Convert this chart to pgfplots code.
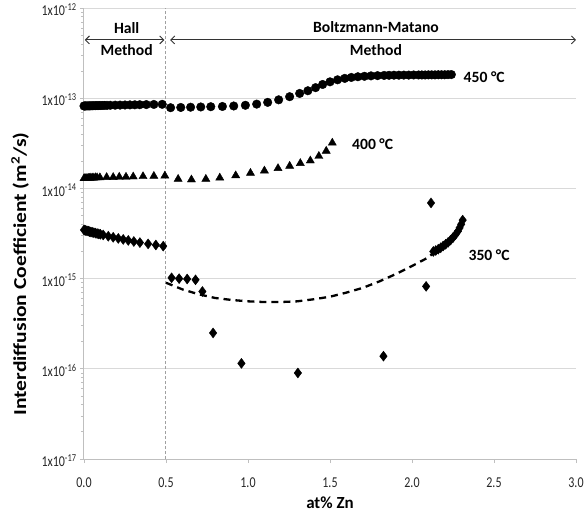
\documentclass[border=0pt]{standalone}
\usepackage{fontspec}
\setmainfont{Carlito}
\usepackage{graphicx}
\usepackage{pgfplots}
\pgfplotsset{compat=1.18}
\usetikzlibrary{arrows.meta}
\definecolor{gridc}{HTML}{D9D9D9}
\definecolor{axc}{HTML}{BFBFBF}
\definecolor{vlc}{HTML}{A0A0A0}
\newcommand{\tl}[1]{\scalebox{0.86}[1.08]{#1}}
\begin{document}
\begin{tikzpicture}
\useasboundingbox (-84bp,-56bp) rectangle (502bp,459bp);
\begin{axis}[
  at={(0bp,0bp)}, anchor=south west,
  scale only axis, width=492bp, height=451bp,
  xmin=0, xmax=3, ymin=1e-17, ymax=1e-12, ymode=log,
  clip=false,
  axis x line*=bottom, axis y line*=left,
  axis line style={-, draw=axc, line width=1bp},
  tick align=outside,
  major tick length=4bp, minor tick length=3bp,
  tick style={draw=axc, line width=0.8bp},
  xtick={0,0.5,1,1.5,2,2.5,3},
  xticklabels={\tl{0.0},\tl{0.5},\tl{1.0},\tl{1.5},\tl{2.0},\tl{2.5},\tl{3.0}},
  ytick={1e-17,1e-16,1e-15,1e-14,1e-13,1e-12},
  yticklabels={\tl{1x10\textsuperscript{-17}},\tl{1x10\textsuperscript{-16}},\tl{1x10\textsuperscript{-15}},\tl{1x10\textsuperscript{-14}},\tl{1x10\textsuperscript{-13}},\raisebox{-7bp}{\tl{1x10\textsuperscript{-12}}}},
  minor ytick={2e-17,3e-17,4e-17,5e-17,6e-17,7e-17,8e-17,9e-17,
    2e-16,3e-16,4e-16,5e-16,6e-16,7e-16,8e-16,9e-16,
    2e-15,3e-15,4e-15,5e-15,6e-15,7e-15,8e-15,9e-15,
    2e-14,3e-14,4e-14,5e-14,6e-14,7e-14,8e-14,9e-14,
    2e-13,3e-13,4e-13,5e-13,6e-13,7e-13,8e-13,9e-13},
  tick label style={font=\fontsize{14}{16}\selectfont, text=black!85},
  xticklabel style={yshift=-11bp},
  yticklabel style={yshift=-1.5bp},
  ymajorgrids, major grid style={draw=gridc, line width=1bp},
  xlabel={at\% Zn},
  ylabel={\scalebox{1.03}[0.87]{Interdiffusion Coefficient (m\textsuperscript{2}/s)}},
  xlabel style={at={(axis description cs:0.5,-0.0976)}, anchor=center, font=\bfseries\fontsize{17}{20}\selectfont},
  ylabel style={at={(axis description cs:-0.13,0.41)}, anchor=center, font=\bfseries\fontsize{21}{24}\selectfont},
]
% vertical dashed separator
\draw[vlc, line width=1bp, dash pattern=on 3bp off 2bp] (axis cs:0.5,1e-17) -- (axis cs:0.5,1e-12);

% 450 C
\addplot[only marks, mark=*, mark size=4.3bp, black] coordinates {
(0.000,8.20e-14)(0.005,8.20e-14)(0.010,8.21e-14)(0.018,8.22e-14)(0.026,8.22e-14)
(0.034,8.23e-14)(0.042,8.24e-14)(0.050,8.25e-14)(0.060,8.26e-14)(0.070,8.27e-14)
(0.080,8.28e-14)(0.090,8.29e-14)(0.100,8.30e-14)(0.112,8.31e-14)(0.125,8.32e-14)
(0.140,8.33e-14)(0.160,8.35e-14)(0.190,8.37e-14)(0.220,8.39e-14)(0.250,8.41e-14)
(0.280,8.43e-14)(0.310,8.45e-14)(0.340,8.47e-14)(0.380,8.50e-14)(0.426,8.53e-14)
(0.477,8.56e-14)
(0.528,7.85e-14)(0.590,7.90e-14)(0.650,7.95e-14)(0.712,8.00e-14)(0.773,8.05e-14)
(0.844,8.10e-14)(0.913,8.20e-14)(0.984,8.35e-14)(1.053,8.60e-14)(1.120,9.00e-14)
(1.187,9.60e-14)(1.254,1.04e-13)(1.315,1.13e-13)(1.365,1.21e-13)(1.412,1.31e-13)
(1.455,1.42e-13)(1.500,1.52e-13)(1.546,1.60e-13)(1.590,1.66e-13)(1.630,1.70e-13)
(1.670,1.73e-13)(1.710,1.75e-13)(1.750,1.77e-13)(1.790,1.78e-13)(1.830,1.79e-13)
(1.860,1.795e-13)(1.890,1.80e-13)(1.920,1.80e-13)(1.950,1.805e-13)(1.980,1.805e-13)
(2.010,1.81e-13)(2.040,1.81e-13)(2.060,1.81e-13)(2.080,1.81e-13)(2.100,1.815e-13)
(2.120,1.815e-13)(2.140,1.815e-13)(2.160,1.82e-13)(2.180,1.82e-13)(2.200,1.82e-13)
(2.220,1.825e-13)(2.240,1.83e-13)
};

% 400 C
\addplot[only marks, mark=triangle*, mark size=4.7bp, black] coordinates {
(0.000,1.29e-14)(0.005,1.29e-14)(0.010,1.29e-14)(0.018,1.30e-14)(0.026,1.30e-14)
(0.034,1.30e-14)(0.042,1.31e-14)(0.050,1.31e-14)(0.060,1.31e-14)(0.070,1.32e-14)
(0.080,1.32e-14)(0.097,1.32e-14)(0.138,1.33e-14)(0.178,1.33e-14)(0.215,1.34e-14)
(0.256,1.34e-14)(0.300,1.35e-14)(0.360,1.36e-14)(0.426,1.37e-14)(0.493,1.38e-14)
(0.574,1.27e-14)(0.655,1.25e-14)(0.743,1.27e-14)(0.828,1.31e-14)(0.925,1.39e-14)
(1.015,1.48e-14)(1.100,1.57e-14)(1.183,1.67e-14)(1.254,1.77e-14)(1.319,1.90e-14)
(1.380,2.03e-14)(1.432,2.28e-14)(1.477,2.60e-14)(1.514,3.20e-14)
};

% 350 C trend (dashed)
\addplot[black, line width=2.3bp, dash pattern=on 7bp off 5bp] coordinates {
(0.50,9.0e-16)(0.60,7.6e-16)(0.70,6.7e-16)(0.80,6.1e-16)(0.90,5.8e-16)(1.00,5.6e-16)
(1.10,5.5e-16)(1.20,5.5e-16)(1.30,5.6e-16)(1.40,5.9e-16)(1.50,6.3e-16)(1.60,7.0e-16)
(1.70,7.9e-16)(1.80,9.3e-16)(1.90,1.12e-15)(2.00,1.38e-15)(2.10,1.72e-15)(2.14,2.0e-15)
};

% 350 C
\addplot[only marks, mark=diamond*, mark size=5bp, black] coordinates {
(0.000,3.46e-15)(0.005,3.44e-15)(0.010,3.42e-15)(0.018,3.39e-15)(0.026,3.36e-15)
(0.034,3.32e-15)(0.042,3.29e-15)(0.050,3.26e-15)(0.060,3.23e-15)(0.070,3.20e-15)
(0.080,3.16e-15)(0.090,3.13e-15)(0.100,3.10e-15)(0.117,3.05e-15)(0.148,2.95e-15)
(0.178,2.87e-15)(0.209,2.79e-15)(0.239,2.72e-15)(0.270,2.65e-15)(0.304,2.58e-15)
(0.341,2.51e-15)(0.391,2.43e-15)(0.438,2.36e-15)(0.483,2.29e-15)
(0.534,1.02e-15)(0.580,1.00e-15)(0.629,0.99e-15)(0.680,0.97e-15)(0.722,7.2e-16)
(0.787,2.5e-16)(0.960,1.15e-16)(1.304,9.0e-17)(1.826,1.38e-16)(2.086,8.2e-16)
(2.116,6.9e-15)
(2.130,2.00e-15)(2.145,2.05e-15)(2.160,2.12e-15)(2.175,2.20e-15)(2.190,2.30e-15)
(2.205,2.40e-15)(2.220,2.52e-15)(2.235,2.67e-15)(2.250,2.85e-15)(2.265,3.07e-15)
(2.280,3.35e-15)(2.290,3.65e-15)(2.300,4.00e-15)(2.309,4.45e-15)
};

% annotations
\draw[black!80, line width=0.9bp, {Straight Barb[length=4bp,width=8bp]}-{Straight Barb[length=4bp,width=8bp]}]
  (axis cs:0.005,4.43e-13) -- (axis cs:0.49,4.43e-13);
\draw[black!80, line width=0.9bp, {Straight Barb[length=4bp,width=8bp]}-{Straight Barb[length=4bp,width=8bp]}]
  (axis cs:0.525,4.43e-13) -- (axis cs:3.0,4.43e-13);
\node[font=\bfseries\fontsize{15.7}{18}\selectfont] at (axis cs:0.26,5.97e-13) {Hall};
\node[font=\bfseries\fontsize{15.7}{18}\selectfont] at (axis cs:0.26,3.39e-13) {Method};
\node[font=\bfseries\fontsize{15.7}{18}\selectfont] at (axis cs:1.78,6.2e-13) {Boltzmann-Matano};
\node[font=\bfseries\fontsize{15.7}{18}\selectfont] at (axis cs:1.78,3.39e-13) {Method};
\node[font=\bfseries\fontsize{15.7}{18}\selectfont] at (axis cs:2.44,1.72e-13) {450 °C};
\node[font=\bfseries\fontsize{15.7}{18}\selectfont] at (axis cs:1.76,3.09e-14) {400 °C};
\node[font=\bfseries\fontsize{15.7}{18}\selectfont] at (axis cs:2.47,1.82e-15) {350 °C};
\end{axis}
\end{tikzpicture}
\end{document}
